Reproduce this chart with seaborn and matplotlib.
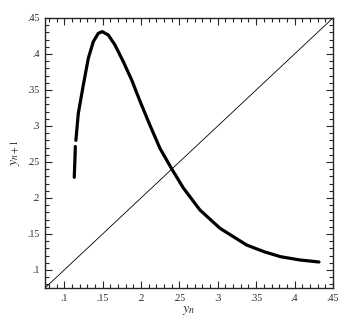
import matplotlib
matplotlib.use("Agg")
import matplotlib.pyplot as plt
import seaborn as sns
import pandas as pd
from matplotlib.ticker import MultipleLocator, FixedLocator, FixedFormatter

# Data
seg1_x = [0.1131, 0.1136, 0.1141, 0.1145]
seg1_y = [0.2287, 0.243, 0.258, 0.2715]
seg2_x = [0.1152, 0.1184, 0.1249, 0.1314, 0.1379, 0.1444, 0.1496, 0.1574,
          0.1661, 0.1770, 0.1879, 0.1987, 0.2117, 0.2247, 0.2400, 0.2551,
          0.2768, 0.3029, 0.3376, 0.3600, 0.3816, 0.4070, 0.4318]
seg2_y = [0.2800, 0.3176, 0.3569, 0.3940, 0.4171, 0.4287, 0.4310, 0.4264,
          0.4125, 0.3893, 0.3639, 0.3345, 0.3010, 0.2690, 0.2405, 0.2140,
          0.1833, 0.1579, 0.1347, 0.1255, 0.1185, 0.1139, 0.1111]
diag_x = [0.075, 0.45]
diag_y = [0.075, 0.45]

tick_vals = [0.10, 0.15, 0.20, 0.25, 0.30, 0.35, 0.40, 0.45]
tick_labels = [".1", ".15", ".2", ".25", ".3", ".35", ".4", ".45"]
x_label = "$y_n$"
y_label = "$y_{n+1}$"

sns.set_style("ticks")
plt.rcParams['font.family'] = ['Liberation Serif', 'DejaVu Serif']
plt.rcParams['mathtext.fontset'] = 'stix'

fig = plt.figure(figsize=(3.58, 3.27), dpi=100)
ax = fig.add_axes([0.1257, 0.1193, 0.8043, 0.8257])

df1 = pd.DataFrame({"x": seg1_x, "y": seg1_y})
df2 = pd.DataFrame({"x": seg2_x, "y": seg2_y})
dfd = pd.DataFrame({"x": diag_x, "y": diag_y})

sns.lineplot(data=dfd, x="x", y="y", ax=ax, color="black", lw=0.6, sort=False)
sns.lineplot(data=df1, x="x", y="y", ax=ax, color="black", lw=2.3, sort=False)
sns.lineplot(data=df2, x="x", y="y", ax=ax, color="black", lw=2.3, sort=False)

ax.set_xlim(0.075, 0.45)
ax.set_ylim(0.075, 0.45)

for axis in (ax.xaxis, ax.yaxis):
    axis.set_major_locator(FixedLocator(tick_vals))
    axis.set_major_formatter(FixedFormatter(tick_labels))
    axis.set_minor_locator(MultipleLocator(0.01))

ax.tick_params(which="both", direction="in", top=True, right=True,
               labelsize=7, width=0.8, pad=4)
ax.tick_params(which="major", length=5)
ax.tick_params(which="minor", length=3)

for s in ax.spines.values():
    s.set_linewidth(1.0)
    s.set_visible(True)

ax.set_xlabel(x_label, fontsize=10, labelpad=1)
ax.set_ylabel(y_label, fontsize=10, labelpad=4)

fig.savefig("out.png", dpi=100)
